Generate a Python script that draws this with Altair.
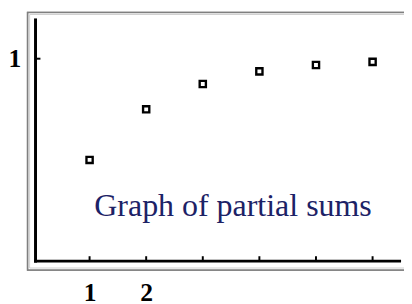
import altair as alt
import pandas as pd

n_terms = [1, 2, 3, 4, 5, 6]
partial_sums = [0.5, 0.75, 0.875, 0.9375, 0.96875, 0.984375]
x_labels = [1, 2]
y_labels = [1]
title_text = "Graph of partial sums"

W, H = 383, 262
pts = pd.DataFrame({"n": n_terms, "s": partial_sums})
xt = pd.DataFrame({"n": n_terms})
yt = pd.DataFrame({"s": y_labels})

xs = alt.Scale(domain=[-0.094, 6.555], nice=False, zero=False)
ys = alt.Scale(domain=[-0.0437, 1.228], nice=False, zero=False)

lab = dict(labelFont="Liberation Serif", labelFontSize=26, labelFontWeight="bold",
           labelColor="black", ticks=False, grid=False, domain=False, title=None,
           format="d")

base_axes = alt.Chart(pts).mark_point(opacity=0).encode(
    x=alt.X("n:Q", scale=xs, axis=alt.Axis(values=x_labels, labelPadding=10, **lab)),
    y=alt.Y("s:Q", scale=ys, axis=alt.Axis(values=y_labels, offset=-8, labelPadding=15,
                                           labelBaseline="middle", **lab)),
)

frame = alt.Chart(pd.DataFrame({"a": [0]})).mark_rect(
    fill="white", stroke="#7f7f7f", strokeWidth=1.6
).encode(x=alt.value(0), x2=alt.value(W + 10), y=alt.value(0), y2=alt.value(H))

frame_in = alt.Chart(pd.DataFrame({"a": [0]})).mark_rect(
    fillOpacity=0, stroke="#d0d0d0", strokeWidth=1
).encode(x=alt.value(2), x2=alt.value(W + 10), y=alt.value(2), y2=alt.value(H - 2))

yline = alt.Chart(pd.DataFrame({"a": [0]})).mark_rule(color="black", strokeWidth=3).encode(
    x=alt.value(8), y=alt.value(6), y2=alt.value(254.5))
xline = alt.Chart(pd.DataFrame({"a": [0]})).mark_rule(color="black", strokeWidth=3).encode(
    y=alt.value(253), x=alt.value(6.5), x2=alt.value(380))

xticks = alt.Chart(xt).mark_rule(color="black", strokeWidth=2).encode(
    x=alt.X("n:Q", scale=xs), y=alt.value(H - 14), y2=alt.value(H - 9))
yticks = alt.Chart(yt).mark_rule(color="black", strokeWidth=2).encode(
    y=alt.Y("s:Q", scale=ys), x=alt.value(8), x2=alt.value(13))

points = alt.Chart(pts).mark_square(
    size=40, fill="white", stroke="black", strokeWidth=2.4, opacity=1, filled=False
).encode(x=alt.X("n:Q", scale=xs), y=alt.Y("s:Q", scale=ys))

label = alt.Chart(pd.DataFrame({"t": [title_text]})).mark_text(
    font="Liberation Serif", fontSize=32.5, color="#1c2266", align="center", baseline="middle"
).encode(text="t:N", x=alt.value(209), y=alt.value(197))

chart = alt.layer(frame, frame_in, base_axes, yline, xline, xticks, yticks, points, label).properties(
    width=W, height=H, background="white",
    autosize=alt.AutoSizeParams(type="none"),
    padding={"left": 20, "top": 2, "right": 0, "bottom": 32},
).configure_view(stroke="#7f7f7f", strokeWidth=1.6)

chart.save("out.html", embed_options={"renderer": "svg", "actions": False})
